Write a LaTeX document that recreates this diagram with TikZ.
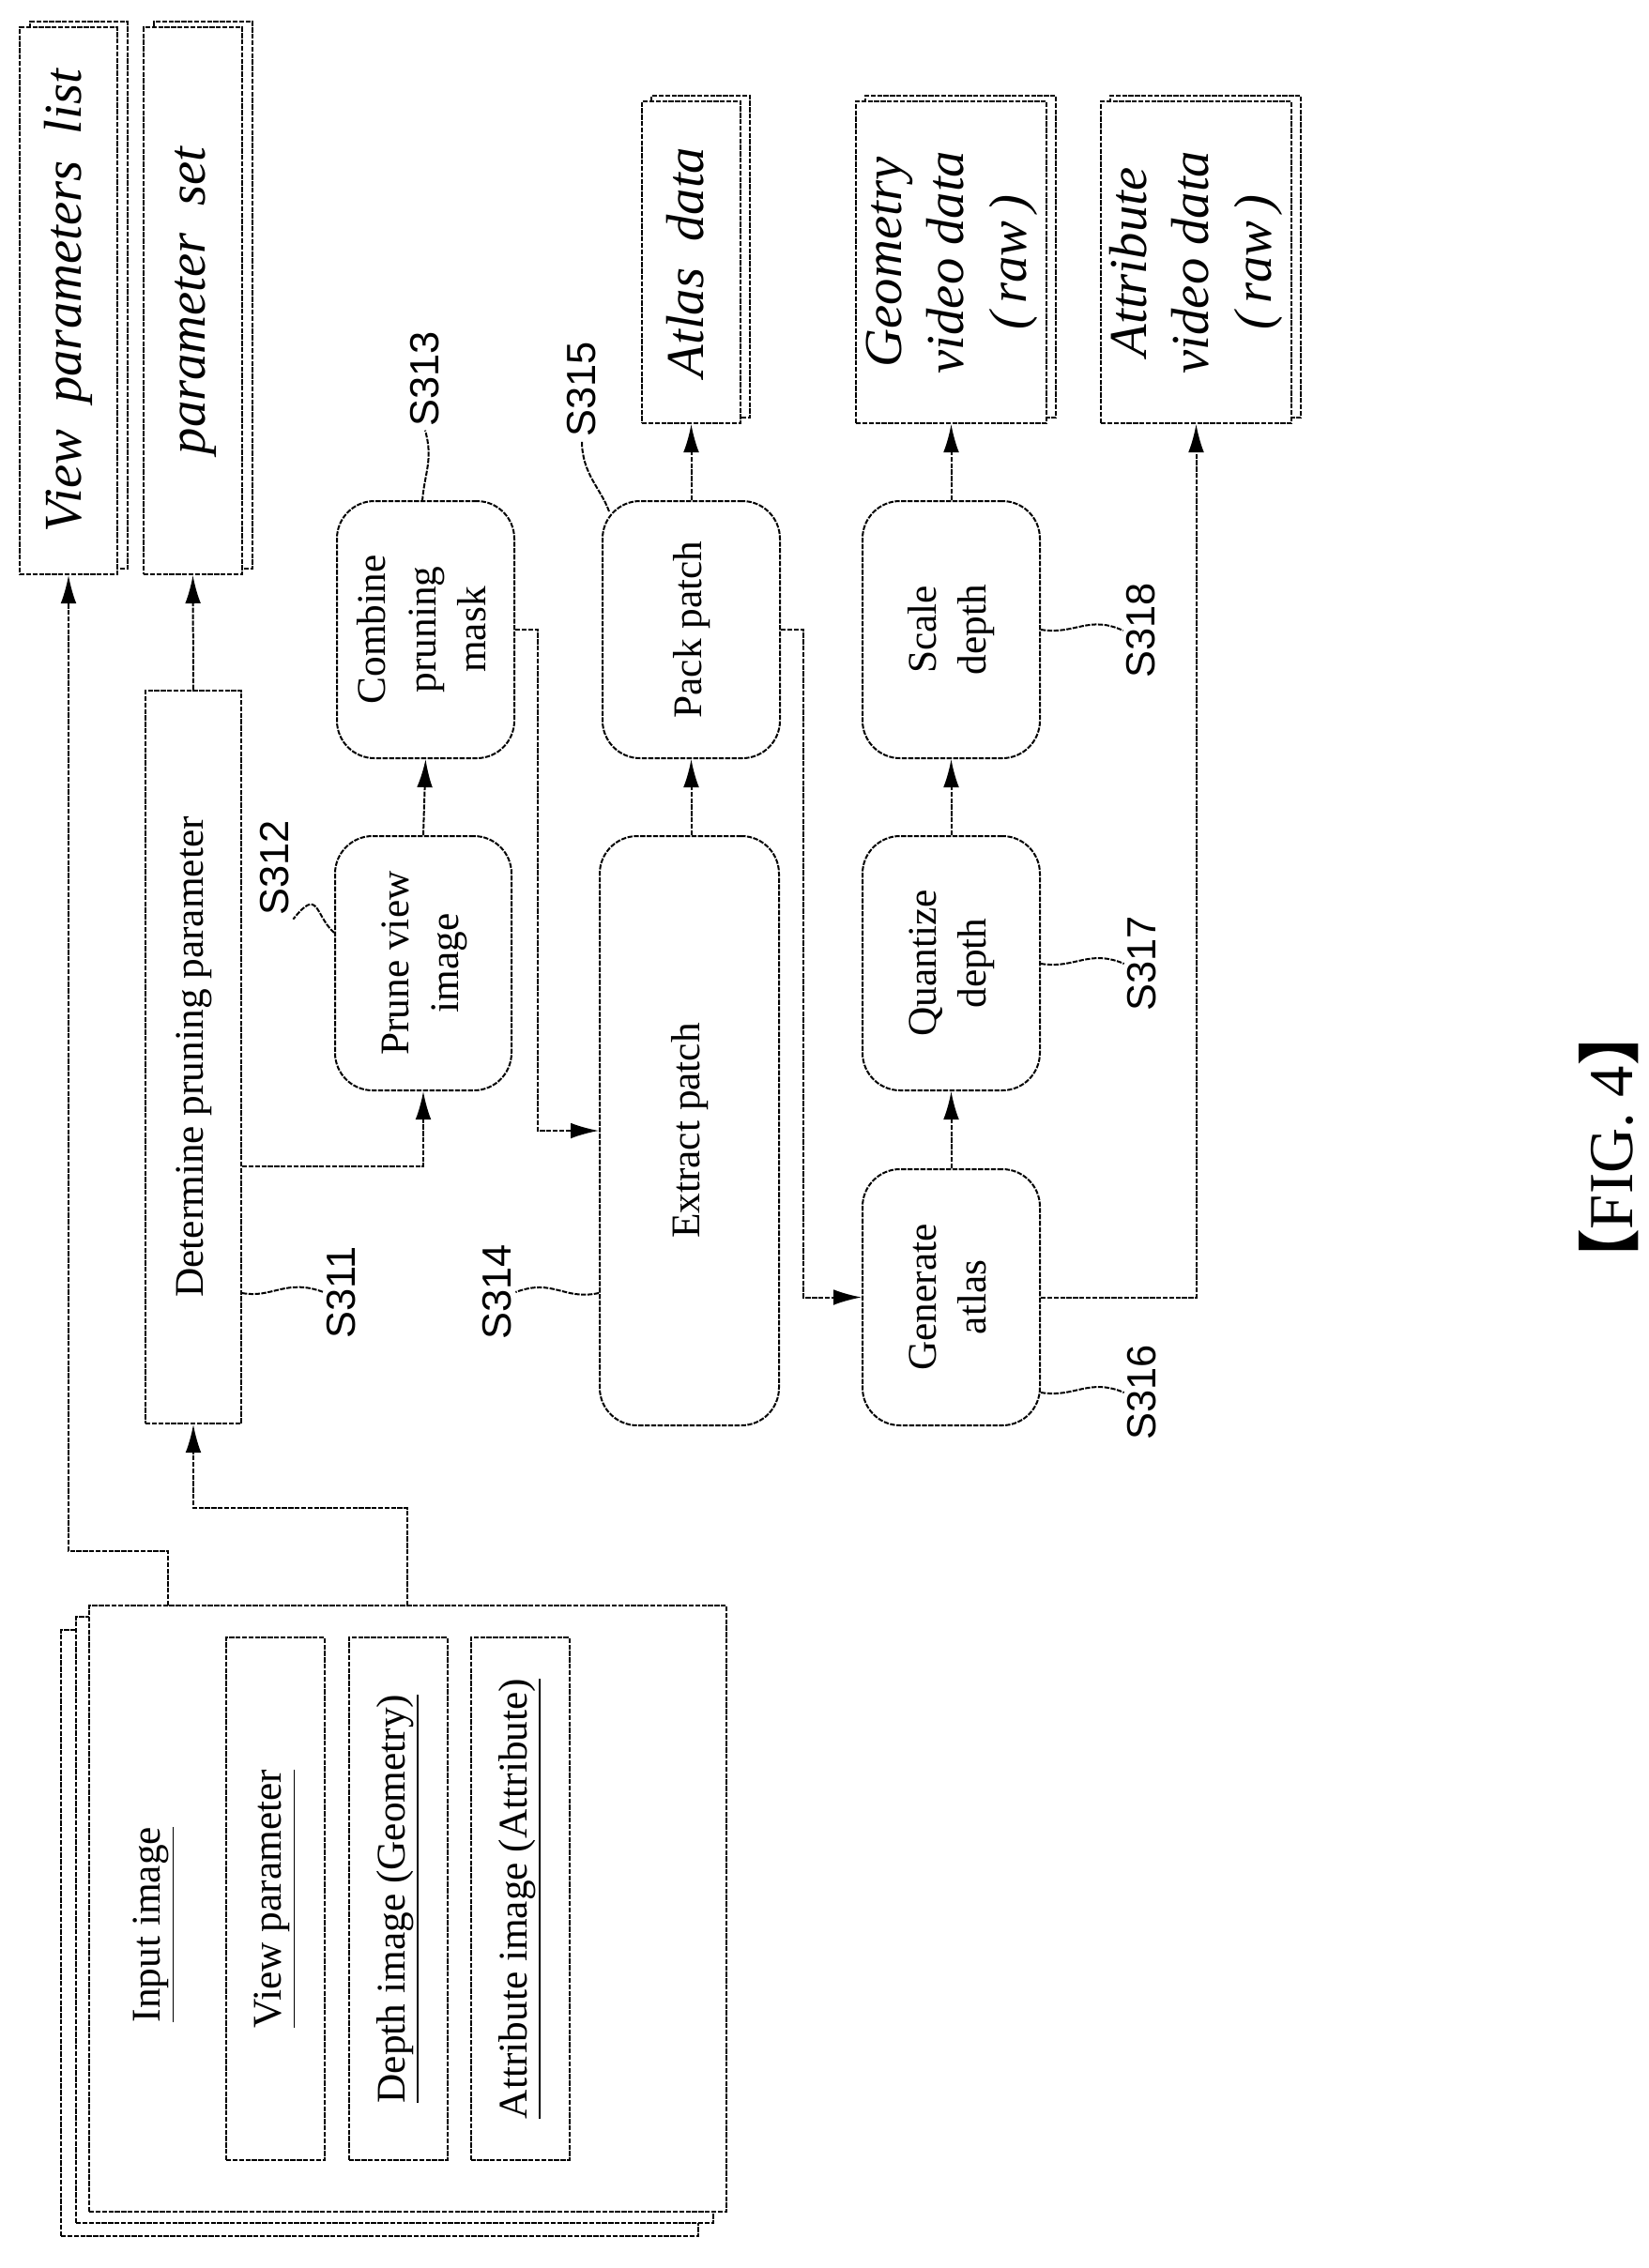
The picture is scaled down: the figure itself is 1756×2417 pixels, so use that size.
\documentclass[tikz,border=0pt]{standalone}
\usepackage{fontspec}
\setmainfont{Liberation Serif}
\newfontfamily\lsans{Liberation Sans}
\newfontfamily\cjk{Noto Sans CJK SC}
\usetikzlibrary{arrows.meta}
\newcommand{\rtxt}[1]{\rotatebox{90}{\begin{tabular}{@{}c@{}}#1\end{tabular}}}
\begin{document}
\begin{tikzpicture}[x=0.3pt,y=-0.3pt,
 ln/.style={line width=0.6pt, dash pattern=on 1.6pt off 0.45pt},
 box/.style={ln, draw, fill=white, inner sep=0pt, font=\fontsize{13}{16}\selectfont},
 rbox/.style={box, rounded corners=12pt},
 obox/.style={box, font=\fontsize{17}{20}\selectfont\itshape},
 arr/.style={ln, -{Latex[length=9pt,width=5pt]}},
 lead/.style={ln},
 slab/.style={font=\lsans\fontsize{13}{13}\selectfont, rotate=90, inner sep=1pt}]
\useasboundingbox (0,0) rectangle (1756,2417);
% output boxes with shadow
\node[box, minimum width=31.2pt, minimum height=174.9pt] (vpls) at (84,314.5) {};
\node[obox, minimum width=31.2pt, minimum height=174.9pt] (vpl) at (73,320.5) {\rtxt{View\ \ parameters\ \ list}};
\node[box, minimum width=31.5pt, minimum height=174.9pt] (pss) at (216.5,314.5) {};
\node[obox, minimum width=31.5pt, minimum height=174.9pt] (ps) at (205.5,320.5) {\rtxt{parameter\ \ set}};
\node[box, minimum width=31.5pt, minimum height=102.9pt] (ads) at (746.5,273.5) {};
\node[obox, minimum width=31.5pt, minimum height=102.9pt] (ad) at (736.5,279.5) {\rtxt{Atlas\ \ data}};
\node[box, minimum width=60.9pt, minimum height=102.9pt] (gvs) at (1023.5,273.5) {};
\node[obox, minimum width=60.9pt, minimum height=102.9pt] (gv) at (1013.5,279.5) {\rtxt{Geometry\\video\ data\\(\,raw\,)}};
\node[box, minimum width=60.9pt, minimum height=102.9pt] (avs) at (1284.5,273.5) {};
\node[obox, minimum width=60.9pt, minimum height=102.9pt] (av) at (1274.5,279.5) {\rtxt{Attribute\\video\ data\\(\,raw\,)}};
% process boxes
\node[box, minimum width=30.6pt, minimum height=234.3pt] (det) at (206,1126.5) {\rtxt{Determine pruning parameter}};
\node[rbox, minimum width=56.4pt, minimum height=81.3pt] (prune) at (451,1026.5) {\rtxt{Prune view\\image}};
\node[rbox, minimum width=56.7pt, minimum height=82.2pt] (comb) at (453.5,671) {\rtxt{Combine\\pruning\\mask}};
\node[rbox, minimum width=57.3pt, minimum height=188.4pt] (ext) at (734.5,1205) {\rtxt{Extract patch}};
\node[rbox, minimum width=56.7pt, minimum height=82.2pt] (pack) at (736.5,671) {\rtxt{Pack patch}};
\node[rbox, minimum width=56.7pt, minimum height=81.9pt] (gen) at (1013.5,1382.5) {\rtxt{Generate\\atlas}};
\node[rbox, minimum width=56.7pt, minimum height=81.3pt] (quant) at (1013.5,1026.5) {\rtxt{Quantize\\depth}};
\node[rbox, minimum width=56.7pt, minimum height=82.2pt] (scale) at (1013.5,671) {\rtxt{Scale\\depth}};
% input stack
\node[box, minimum width=203.7pt, minimum height=193.8pt] (in3) at (404.5,2060) {};
\node[box, minimum width=203.7pt, minimum height=193.8pt] (in2) at (420.5,2046) {};
\node[box, minimum width=203.7pt, minimum height=193.8pt] (in) at (434.5,2034) {};
\node[inner sep=0pt, font=\fontsize{13}{16}\selectfont] (intxt) at (164,2051) {\rotatebox{90}{\underline{Input image}}};
\node[box, minimum width=31.5pt, minimum height=167.1pt] (vp) at (293.5,2023.5) {\rotatebox{90}{\underline{View parameter}}};
\node[box, minimum width=31.5pt, minimum height=167.1pt] (dp) at (424,2023.5) {\rotatebox{90}{\underline{Depth image (Geometry)}}};
\node[box, minimum width=31.5pt, minimum height=167.1pt] (at) at (554,2023.5) {\rotatebox{90}{\underline{Attribute image (Attribute)}}};
% connectors
\coordinate (c1) at (179,1711);
\coordinate (c2) at (434,1711);
\draw[arr] (c1) -- (179,1653) -| (vpl.south);
\draw[arr] (c2) -- (434,1607) -| (det.south);
\draw[arr] (det.north) -- (ps.south);
\draw[arr] (det.east |- 0,1243) -| (prune.south);
\draw[arr] (prune.north) -- (comb.south);
\draw[arr] (comb.east) -- (573,671) |- (ext.west |- 0,1205);
\draw[arr] (ext.north -| pack.south) -- (pack.south);
\draw[arr] (pack.north) -- (ad.south);
\draw[arr] (pack.east) -- (856,671) |- (gen.west);
\draw[arr] (gen.north) -- (quant.south);
\draw[arr] (quant.north) -- (scale.south);
\draw[arr] (scale.north) -- (gv.south);
\draw[arr] (gen.east) -| (av.south);
% step labels
\node[slab] (s311) at (364,1377) {S311};
\node[slab] (s312) at (293,925) {S312};
\node[slab] (s313) at (453,404) {S313};
\node[slab] (s314) at (530,1377) {S314};
\node[slab] (s315) at (620,415) {S315};
\node[slab] (s316) at (1217,1484) {S316};
\node[slab] (s317) at (1217,1027) {S317};
\node[slab] (s318) at (1216,672) {S318};
\draw[lead] (det.east |- 0,1378) .. controls (290,1384) and (305,1362) .. (s311.north);
\draw[lead] (ext.west |- 0,1378) .. controls (600,1386) and (590,1362) .. (s314.south);
\draw[lead] (gen.east |- 0,1484) .. controls (1145,1490) and (1160,1468) .. (s316.north);
\draw[lead] (quant.east |- 0,1027) .. controls (1145,1033) and (1160,1011) .. (s317.north);
\draw[lead] (scale.east) .. controls (1145,677) and (1160,655) .. (s318.north);
\draw[lead] (prune.west |- 0,994) .. controls (335,975) and (340,945) .. (s312.south west);
\draw[lead] (450,534) .. controls (452,505) and (462,490) .. (s313.west);
\draw[lead] (649,545) .. controls (640,520) and (620,505) .. (s315.west);
% figure caption
\node[rotate=90, inner sep=0pt, font=\fontsize{20}{20}\selectfont] (fig) at (1714,1223) {{\cjk\bfseries 【}FIG. 4{\cjk\bfseries 】}};
\end{tikzpicture}
\end{document}
